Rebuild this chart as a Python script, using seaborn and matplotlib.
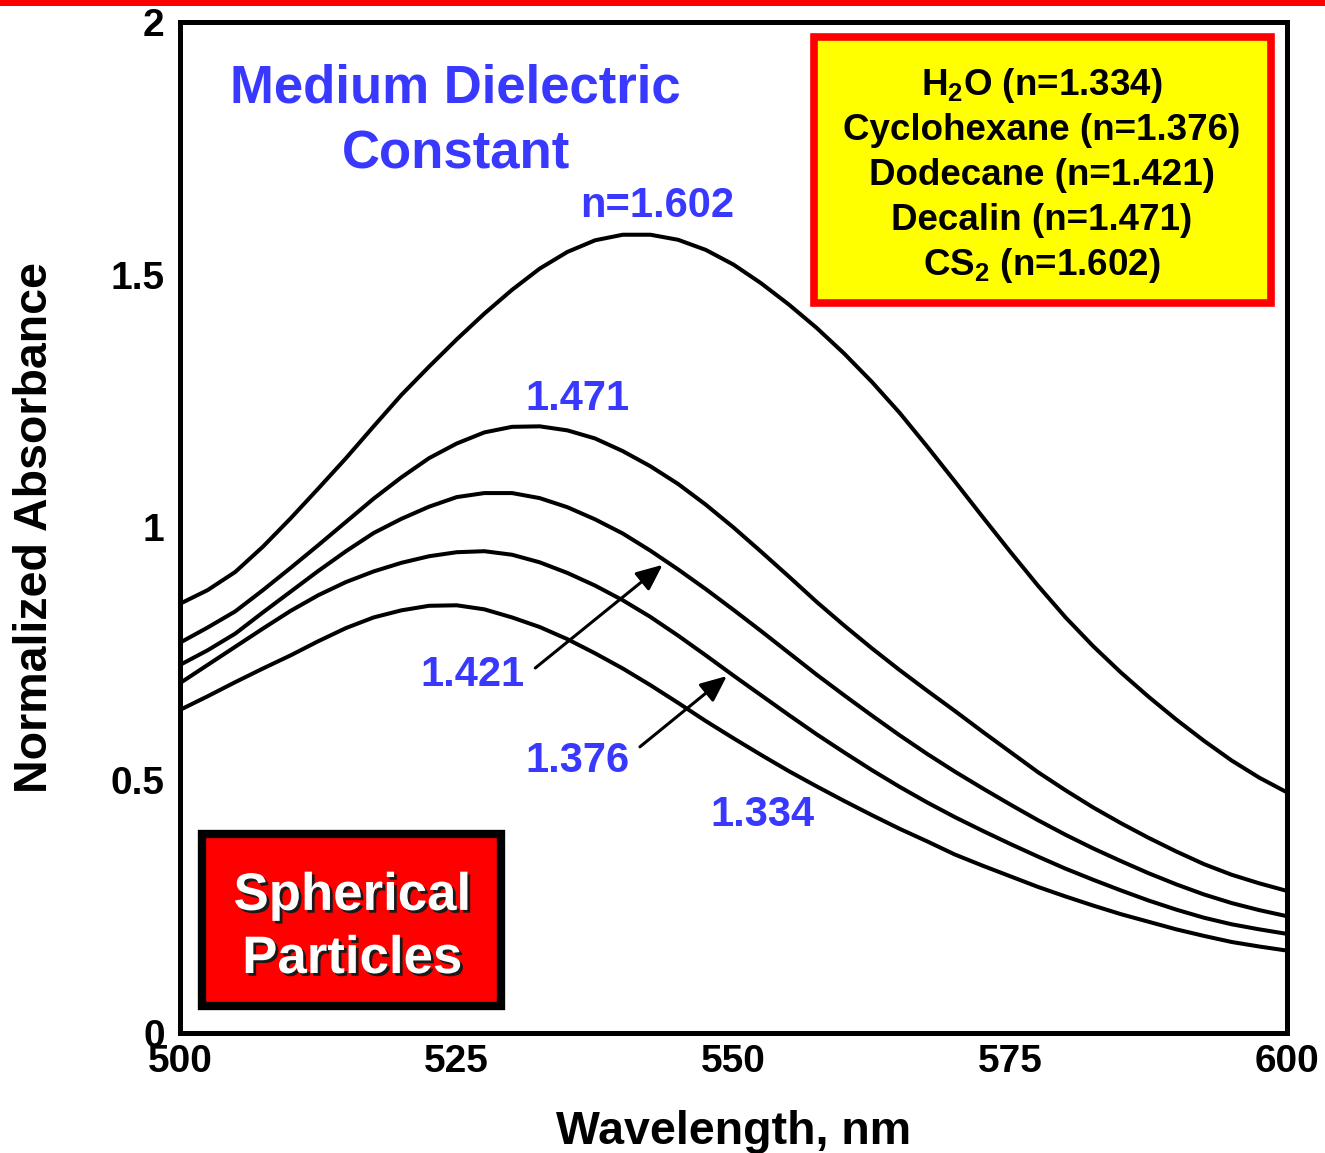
import numpy as np
import pandas as pd
import matplotlib
matplotlib.use("Agg")
import matplotlib.pyplot as plt
import matplotlib.patheffects as pe
from matplotlib.patches import Rectangle
from matplotlib.ticker import MultipleLocator
import seaborn as sns

# wavelength grid (nm) and normalized absorbance
wavelength = np.arange(500, 600.1, 2.5)

abs_h2o = [0.639, 0.666, 0.694, 0.721, 0.747, 0.775, 0.801, 0.822, 0.836, 0.845,
           0.846, 0.838, 0.822, 0.803, 0.779, 0.751, 0.721, 0.688, 0.653, 0.617,
           0.583, 0.550, 0.518, 0.488, 0.459, 0.431, 0.404, 0.379, 0.353, 0.331,
           0.310, 0.289, 0.270, 0.252, 0.235, 0.220, 0.205, 0.192, 0.180, 0.171, 0.163]
abs_cyclohexane = [0.692, 0.728, 0.764, 0.800, 0.835, 0.866, 0.892, 0.913, 0.930, 0.943,
                   0.951, 0.953, 0.946, 0.931, 0.910, 0.885, 0.856, 0.823, 0.786, 0.747,
                   0.707, 0.668, 0.629, 0.591, 0.555, 0.520, 0.487, 0.456, 0.427, 0.400,
                   0.374, 0.349, 0.325, 0.303, 0.282, 0.262, 0.244, 0.228, 0.215, 0.205, 0.196]
abs_dodecane = [0.728, 0.757, 0.790, 0.832, 0.873, 0.914, 0.953, 0.989, 1.017, 1.041,
                1.060, 1.068, 1.068, 1.058, 1.040, 1.016, 0.988, 0.954, 0.917, 0.878,
                0.837, 0.795, 0.752, 0.709, 0.668, 0.628, 0.589, 0.552, 0.517, 0.484,
                0.452, 0.421, 0.392, 0.365, 0.340, 0.316, 0.294, 0.274, 0.257, 0.243, 0.231]
abs_decalin = [0.772, 0.802, 0.834, 0.876, 0.920, 0.965, 1.011, 1.057, 1.099, 1.137,
               1.166, 1.188, 1.199, 1.200, 1.192, 1.176, 1.151, 1.121, 1.086, 1.045,
               1.000, 0.952, 0.903, 0.853, 0.806, 0.761, 0.718, 0.677, 0.637, 0.596,
               0.556, 0.516, 0.480, 0.446, 0.415, 0.386, 0.359, 0.334, 0.313, 0.296, 0.281]
abs_cs2 = [0.849, 0.876, 0.912, 0.962, 1.018, 1.077, 1.137, 1.200, 1.262, 1.318,
           1.372, 1.423, 1.470, 1.512, 1.545, 1.568, 1.579, 1.579, 1.569, 1.549,
           1.520, 1.483, 1.441, 1.395, 1.344, 1.288, 1.227, 1.160, 1.091, 1.021,
           0.952, 0.885, 0.822, 0.765, 0.713, 0.665, 0.620, 0.578, 0.539, 0.505, 0.476]

media = ["H2O", "Cyclohexane", "Dodecane", "Decalin", "CS2"]
series = [abs_h2o, abs_cyclohexane, abs_dodecane, abs_decalin, abs_cs2]

x_ticks = [500, 525, 550, 575, 600]
x_tick_labels = ["500", "525", "550", "575", "600"]
y_ticks = [0, 0.5, 1, 1.5, 2]
y_tick_labels = ["0", "0.5", "1", "1.5", "2"]

legend_lines = [r"H$_2$O (n=1.334)", "Cyclohexane (n=1.376)", "Dodecane (n=1.421)",
                "Decalin (n=1.471)", r"CS$_2$ (n=1.602)"]
curve_labels = ["n=1.602", "1.471", "1.421", "1.376", "1.334"]
curve_label_pos = [(543.1, 1.614), (535.95, 1.232), (526.4, 0.686), (535.95, 0.516), (552.6, 0.409)]

df = pd.concat([pd.DataFrame({"wavelength": wavelength, "absorbance": vals, "medium": m})
                for m, vals in zip(media, series)], ignore_index=True)

sns.set_theme(style="white", rc={"axes.edgecolor": "black", "text.color": "black",
                                 "xtick.color": "black", "ytick.color": "black",
                                 "axes.labelcolor": "black"})
plt.rcParams['font.family'] = ['Liberation Sans', 'DejaVu Sans']
plt.rcParams['font.weight'] = 'bold'
plt.rcParams['axes.labelweight'] = 'bold'
plt.rcParams['mathtext.fontset'] = 'custom'
plt.rcParams['mathtext.rm'] = 'Liberation Sans:bold'
plt.rcParams['mathtext.bf'] = 'Liberation Sans:bold'
plt.rcParams['mathtext.it'] = 'Liberation Sans:bold'

blue = '#3838FF'

fig = plt.figure(figsize=(13.25, 11.53), dpi=100)
ax = fig.add_axes([0.1358, 0.1041, 0.8355, 0.8769])

sns.lineplot(data=df, x="wavelength", y="absorbance", hue="medium",
             palette=["black"] * 5, linewidth=2.9, legend=False,
             estimator=None, ax=ax)

ax.set_xlim(500, 600)
ax.set_ylim(0, 2)
ax.set_xticks(x_ticks, labels=x_tick_labels)
ax.set_yticks(y_ticks, labels=y_tick_labels)
ax.xaxis.set_minor_locator(MultipleLocator(5))
ax.yaxis.set_minor_locator(MultipleLocator(0.1))
ax.tick_params(which='both', direction='in', top=False, right=False)
ax.tick_params(which='major', length=20, width=3, labelsize=28)
ax.tick_params(which='minor', length=10.5, width=1.2)
ax.tick_params(axis='x', which='major', pad=8)
ax.tick_params(axis='y', which='major', pad=11)
for s in ax.spines.values():
    s.set_linewidth(3.6)
    s.set_color('black')

ax.set_xlabel("Wavelength, nm", fontsize=33.5, fontweight='bold')
ax.set_ylabel("Normalized Absorbance", fontsize=33.5, fontweight='bold')
ax.xaxis.set_label_coords(0.5, -0.076)
ax.yaxis.set_label_coords(-0.111, 0.5)

# title-like annotation
ax.text(524.9, 1.840, "Medium Dielectric", color=blue, fontsize=38, fontweight='bold',
        ha='center', va='baseline')
ax.text(524.9, 1.711, "Constant", color=blue, fontsize=38, fontweight='bold',
        ha='center', va='baseline')

for txt, (lx, ly) in zip(curve_labels, curve_label_pos):
    ax.text(lx, ly, txt, color=blue, fontsize=30, fontweight='bold', ha='center', va='baseline')

arrow_style = dict(arrowstyle='-|>,head_length=0.8,head_width=0.35', color='black',
                   lw=2.2, shrinkA=0, shrinkB=0, mutation_scale=20)
ax.annotate('', xy=(543.6, 0.926), xytext=(532.1, 0.722), arrowprops=arrow_style)
ax.annotate('', xy=(549.4, 0.706), xytext=(541.55, 0.566), arrowprops=arrow_style)

# legend box (yellow with red frame)
ax.add_patch(Rectangle((0.5727, 0.7221), 0.4128, 0.2631, transform=ax.transAxes,
                       facecolor='#FFFF00', edgecolor='#FF0000', lw=5.5, zorder=3))
for i, line in enumerate(legend_lines):
    ax.text(0.7787, 0.9278 - i * 0.0445, line, transform=ax.transAxes, fontsize=26.5,
            fontweight='bold', ha='center', va='baseline', zorder=4)

# "Spherical Particles" box
ax.add_patch(Rectangle((0.0199, 0.0267), 0.2701, 0.1701, transform=ax.transAxes,
                       facecolor='#FF0000', edgecolor='black', lw=6, zorder=3))
shadow = [pe.withSimplePatchShadow(offset=(2, -2), shadow_rgbFace='#1a1a1a', alpha=1.0)]
ax.text(0.1554, 0.1217, "Spherical", transform=ax.transAxes, color='white', fontsize=38,
        fontweight='bold', ha='center', va='baseline', zorder=4, path_effects=shadow)
ax.text(0.1554, 0.0593, "Particles", transform=ax.transAxes, color='white', fontsize=38,
        fontweight='bold', ha='center', va='baseline', zorder=4, path_effects=shadow)

# red band along the top edge
fig.add_artist(Rectangle((0, 1 - 6 / 1153), 1, 6 / 1153, transform=fig.transFigure,
                         facecolor='#FF0000', lw=0))

fig.savefig('out.png', dpi=100)
plt.close(fig)
